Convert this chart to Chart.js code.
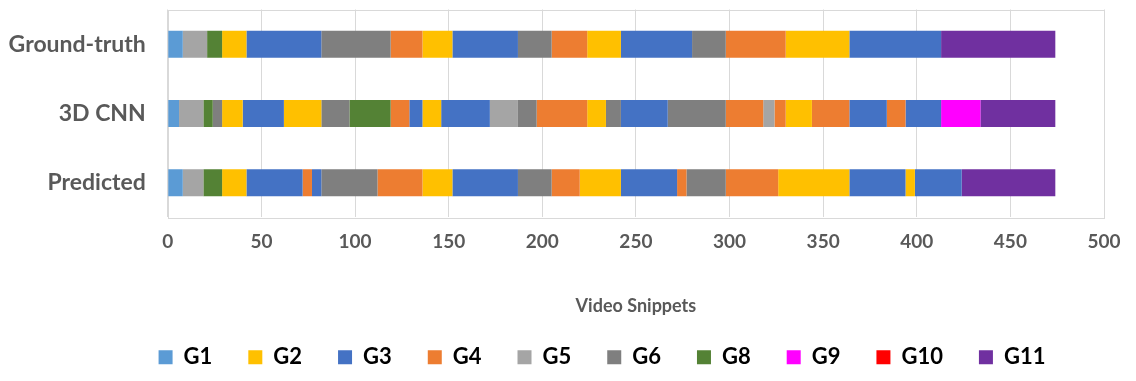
<!DOCTYPE html>
<html>
<head>
<meta charset="utf-8">
<script src="https://cdn.jsdelivr.net/npm/chart.js@4/dist/chart.umd.min.js"></script>
<style>
html,body{margin:0;padding:0;background:#fff;}
#wrap{width:1136px;height:381px;position:relative;}
</style>
</head>
<body>
<div id="wrap"><canvas id="c" width="1136" height="381"></canvas></div>
<script>
const categories = ['Ground-truth', '3D CNN', 'Predicted'];
const legendGroups = ['G1', 'G2', 'G3', 'G4', 'G5', 'G6', 'G8', 'G9', 'G10', 'G11'];
const xTicks = [0, 50, 100, 150, 200, 250, 300, 350, 400, 450, 500];

const gtGroups  = ['G1','G5','G8','G2','G3','G6','G4','G2','G3','G6','G4','G2','G3','G6','G4','G2','G3','G11'];
const gtLengths = [8, 13, 8, 13, 40, 37, 17, 16, 35, 18, 19, 18, 38, 18, 32, 34, 49, 61];

const cnnGroups  = ['G1','G5','G8','G6','G2','G3','G2','G6','G8','G4','G3','G2','G3','G5','G6','G4','G2','G6','G3','G6','G4','G5','G4','G2','G4','G3','G4','G3','G9','G11'];
const cnnLengths = [6, 13, 5, 5, 11, 22, 20, 15, 22, 10, 7, 10, 26, 15, 10, 27, 10, 8, 25, 31, 20, 6, 6, 14, 20, 20, 10, 19, 21, 40];

const predGroups  = ['G1','G5','G8','G2','G3','G4','G3','G6','G4','G2','G3','G6','G4','G2','G3','G4','G6','G4','G2','G3','G2','G3','G11'];
const predLengths = [8, 11, 10, 13, 30, 5, 5, 30, 24, 16, 35, 18, 15, 22, 30, 5, 21, 28, 38, 30, 5, 25, 50];

const groupColors = {
  G1: '#5B9BD5', G2: '#FFC000', G3: '#4472C4', G4: '#ED7D31', G5: '#A5A5A5',
  G6: '#7F7F7F', G8: '#548235', G9: '#FF00FF', G10: '#FF0000', G11: '#7030A0'
};

const rowGroups = [gtGroups, cnnGroups, predGroups];
const rowLengths = [gtLengths, cnnLengths, predLengths];
const maxSeg = Math.max(...rowLengths.map(r => r.length));
const datasets = [];
for (let i = 0; i < maxSeg; i++) {
  datasets.push({
    label: 'seg' + i,
    data: rowLengths.map(r => (i < r.length ? r[i] : 0)),
    backgroundColor: rowGroups.map(g => (i < g.length ? groupColors[g[i]] : 'rgba(0,0,0,0)')),
    borderWidth: 0,
    barPercentage: 0.39,
    categoryPercentage: 1.0
  });
}

const textColor = '#595959';
const fontFam = "Lato, 'Open Sans', sans-serif";

const frame = {
  id: 'frame',
  beforeDatasetsDraw(chart) {
    const a = chart.chartArea, ctx = chart.ctx;
    ctx.save();
    ctx.strokeStyle = '#D9D9D9';
    ctx.lineWidth = 1;
    ctx.strokeRect(Math.round(a.left) + 0.5, Math.round(a.top) + 0.5, Math.round(a.right - a.left), Math.round(a.bottom - a.top));
    ctx.restore();
  }
};

const legendShift = {
  id: 'legendShift',
  afterLayout(chart) {
    if (chart.legend) { chart.legend.left = 100; }
  }
};

new Chart(document.getElementById('c'), {
  type: 'bar',
  data: { labels: categories, datasets },
  options: {
    indexAxis: 'y',
    responsive: false,
    animation: false,
    layout: { padding: { top: 9.5, right: 32, bottom: 2.8, left: 0 } },
    scales: {
      x: {
        stacked: true, min: 0, max: 500,
        afterBuildTicks(scale) { scale.ticks = xTicks.map(v => ({ value: v })); },
        afterFit(scale) { scale.height = 92.8; },
        grid: { color: '#D9D9D9', drawTicks: false },
        border: { display: false },
        ticks: { color: textColor, padding: 13, font: { family: fontFam, size: 19, weight: 'bold' } },
        title: { display: true, text: 'Video Snippets', color: textColor,
                 font: { family: fontFam, size: 18, weight: 'bold' }, padding: { top: 0, bottom: -7 } }
      },
      y: {
        stacked: true,
        afterFit(scale) { scale.width = 167.8; scale.paddingTop = 0; scale.paddingBottom = 0; },
        grid: { display: false, drawTicks: false },
        border: { display: false },
        ticks: { color: textColor, padding: 22, font: { family: fontFam, size: 23, weight: 'bold' } }
      }
    },
    plugins: {
      legend: {
        position: 'bottom',
        onClick: null,
        labels: {
          boxWidth: 14, boxHeight: 14, padding: 36,
          color: textColor,
          font: { family: fontFam, size: 22, weight: 'bold' },
          generateLabels() {
            return legendGroups.map(g => ({ text: g, fillStyle: groupColors[g], strokeStyle: groupColors[g], lineWidth: 0, hidden: false }));
          }
        }
      },
      tooltip: { enabled: false }
    }
  },
  plugins: [frame, legendShift]
});
</script>
</body>
</html>
